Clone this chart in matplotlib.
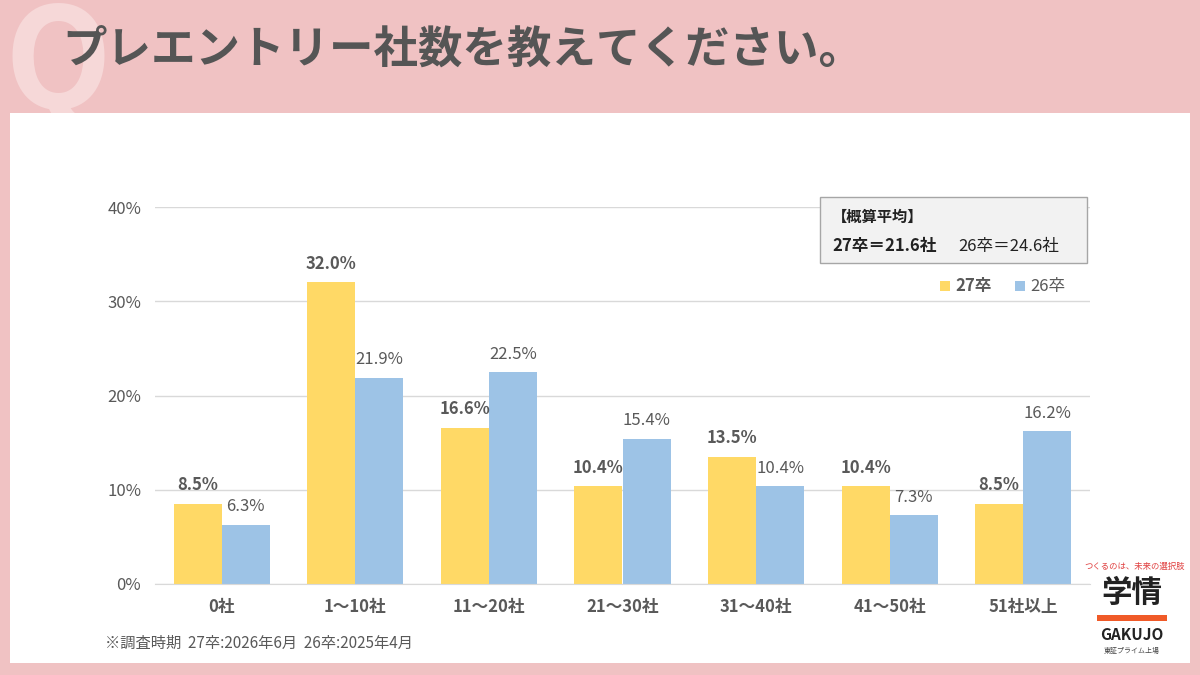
import matplotlib.pyplot as plt
from matplotlib.patches import Rectangle
import numpy as np

plt.rcParams['font.family'] = ['Noto Sans CJK JP', 'DejaVu Sans']

categories = ['0社', '1～10社', '11～20社', '21～30社', '31～40社', '41～50社', '51社以上']
y27 = [8.5, 32.0, 16.6, 10.4, 13.5, 10.4, 8.5]
y26 = [6.3, 21.9, 22.5, 15.4, 10.4, 7.3, 16.2]
yticks = [0, 10, 20, 30, 40]

YEL = '#FFD966'
BLU = '#9DC3E6'
GRAY = '#595959'

fig = plt.figure(figsize=(12, 6.75), dpi=100)
fig.patch.set_facecolor('#F0C2C3')

# faint Q mark (drawn under the white panel)
fig.text(4/1200, 1-68/675, 'Q', fontsize=100, fontweight='bold', color='#F6D8D8',
         va='center', ha='left', zorder=0)
# white panel
fig.patches.append(Rectangle((10/1200, 1-663/675), 1180/1200, 550/675,
                             transform=fig.transFigure, facecolor='white', edgecolor='none', zorder=0.5))
fig.text(62/1200, 1-50/675, 'プレエントリー社数を教えてください。', fontsize=32,
         fontweight='bold', color='#555555', va='center', ha='left', zorder=2)

ax = fig.add_axes([155/1200, 1-584/675, 935/1200, 377/675])
ax.set_zorder(2)
ax.patch.set_alpha(0)
x = np.arange(len(categories))
w = 0.36
ax.bar(x - w/2, y27, w, color=YEL, zorder=2)
ax.bar(x + w/2, y26, w, color=BLU, zorder=2)
for i in range(len(x)):
    ax.text(x[i] - w/2, y27[i] + 1.0, f'{y27[i]:.1f}%', ha='center', va='bottom',
            fontsize=12, fontweight='bold', color=GRAY)
    ax.text(x[i] + w/2, y26[i] + 1.0, f'{y26[i]:.1f}%', ha='center', va='bottom',
            fontsize=12, color=GRAY)
ax.set_xlim(-0.5, len(x) - 0.5)
ax.set_ylim(0, 40)
ax.set_yticks(yticks)
ax.set_yticklabels([f'{t}%' for t in yticks], fontsize=12, color=GRAY)
ax.set_xticks(x)
ax.set_xticklabels(categories, fontsize=12, fontweight='bold', color=GRAY)
ax.tick_params(length=0, pad=10)
ax.grid(axis='y', color='#D9D9D9', lw=1, zorder=0)
for s in ['top', 'right', 'left']:
    ax.spines[s].set_visible(False)
ax.spines['bottom'].set_color('#D9D9D9')

# average box
fig.patches.append(Rectangle((820/1200, 1-263/675), 267/1200, 66/675, transform=fig.transFigure,
                             facecolor='#F2F2F2', edgecolor='#A6A6A6', lw=1, zorder=3))
fig.text(832/1200, 1-217/675, '【概算平均】', fontsize=11, fontweight='bold', color='#222222', va='center', zorder=4)
fig.text(832/1200, 1-246/675, '27卒＝21.6社', fontsize=12, fontweight='bold', color='#222222', va='center', zorder=4)
fig.text(958/1200, 1-246/675, '26卒＝24.6社', fontsize=12, color='#222222', va='center', zorder=4)

# legend
fig.patches.append(Rectangle((940/1200, 1-291/675), 10/1200, 10/675, transform=fig.transFigure, facecolor=YEL, zorder=3))
fig.text(955/1200, 1-286/675, '27卒', fontsize=12, fontweight='bold', color=GRAY, va='center', zorder=4)
fig.patches.append(Rectangle((1015/1200, 1-291/675), 10/1200, 10/675, transform=fig.transFigure, facecolor=BLU, zorder=3))
fig.text(1030/1200, 1-286/675, '26卒', fontsize=12, color=GRAY, va='center', zorder=4)

fig.text(105/1200, 1-643/675, '※調査時期  27卒:2026年6月  26卒:2025年4月', fontsize=11, color=GRAY, va='center', zorder=4)

# logo
fig.text(1135/1200, 1-566/675, 'つくるのは、未来の選択肢', fontsize=6, color='#E04040', ha='center', va='center', zorder=4)
fig.text(1132/1200, 1-593/675, '学情', fontsize=22, fontweight='bold', color='#222222', ha='center', va='center', zorder=4)
fig.patches.append(Rectangle((1097/1200, 1-621/675), 70/1200, 6/675, transform=fig.transFigure, facecolor='#F05A28', zorder=3))
fig.text(1132/1200, 1-635/675, 'GAKUJO', fontsize=11, fontweight='bold', color='#222222', ha='center', va='center', zorder=4)
fig.text(1132/1200, 1-651/675, '東証プライム上場', fontsize=5, color='#444444', ha='center', va='center', zorder=4)

fig.savefig('out.png', dpi=100, facecolor=fig.get_facecolor())
